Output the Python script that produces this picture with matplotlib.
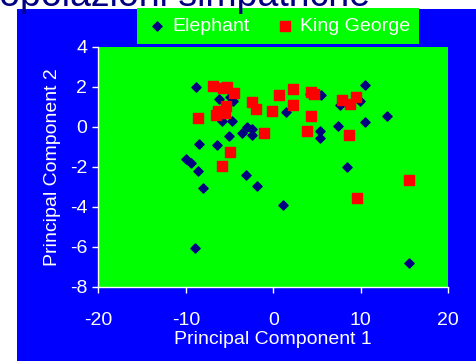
import matplotlib
matplotlib.use("Agg")
import matplotlib.pyplot as plt
from matplotlib.patches import Rectangle

# PCA scores
elephant_x = [-8.8, -6.2, -4.6, -5.0, 1.45, -5.9, -4.75, -3.6, -3.0, -2.45, -2.45,
              -5.1, -8.5, -6.4, -10.0, -9.4, -8.6, -8.0, -3.1, -1.9, 1.07, -8.9,
              4.2, 5.4, 10.5, 7.6, 9.9, 7.4, 10.5, 13.0, 5.3, 5.3, 8.4, 15.5]
elephant_y = [2.0, 1.37, 1.28, 1.5, 0.73, 0.3, 0.3, -0.33, -0.03, -0.1, -0.4,
              -0.47, -0.85, -0.9, -1.63, -1.8, -2.2, -3.07, -2.43, -2.95, -3.93, -6.08,
              1.63, 1.58, 2.1, 1.07, 1.3, 0.03, 0.22, 0.55, -0.22, -0.55, -2.0, -6.8]

george_x = [-6.9, -5.7, -5.3, -4.5, -2.4, -2.0, -0.2, 0.7, -5.4, -6.3, -5.5, -6.5,
            -8.6, -1.1, -5.0, -5.85, 2.3, 2.3, 4.3, 4.7, 4.3, 3.8, 7.9, 8.8, 9.45,
            8.7, 9.6, 15.5]
george_y = [2.03, 1.92, 2.0, 1.68, 1.25, 0.87, 0.78, 1.6, 1.03, 0.78, 0.67, 0.58,
            0.43, -0.33, -1.27, -1.95, 1.88, 1.08, 1.75, 1.63, 0.53, -0.2, 1.33, 1.13,
            1.47, -0.42, -3.58, -2.67]

x_ticks = [-20, -10, 0, 10, 20]
y_ticks = [4, 2, 0, -2, -4, -6, -8]

plt.rcParams['font.family'] = ['Liberation Sans', 'DejaVu Sans']
plt.rcParams['axes.unicode_minus'] = False

W, H = 477, 361
fig = plt.figure(figsize=(W / 100, H / 100), dpi=100)
fig.patch.set_facecolor('white')

# blue slide background
fig.patches.append(Rectangle((17 / W, 0), 1 - 17 / W, 1 - 9.3 / H,
                             transform=fig.transFigure, facecolor='#0000FF',
                             edgecolor='none', zorder=-1))

# cut-off slide title
fig.text(370 / W, 1 - 6.5 / H, 'Popolazioni simpatriche', ha='right',
         va='baseline', fontsize=27, color='#000080')

ax = fig.add_axes([98.3 / W, 1 - 286.7 / H, 350 / W, 240 / H])
ax.set_zorder(2)
ax.set_facecolor('#00FF00')

ax.scatter(elephant_x, elephant_y, marker='D', s=22, color='#000080',
           label='Elephant', zorder=3)
ax.scatter(george_x, george_y, marker='s', s=44, color='#FF0000',
           label='King George', zorder=4)

ax.set_xlim(-20, 20)
ax.set_ylim(-8, 4)
ax.set_xticks(x_ticks)
ax.set_yticks(y_ticks)

for side in ['top', 'right']:
    ax.spines[side].set_visible(False)
for side in ['left', 'bottom']:
    ax.spines[side].set_color('white')
    ax.spines[side].set_linewidth(1)

ax.tick_params(colors='white', labelsize=14, length=4, width=1, direction='out')
ax.tick_params(axis='x', pad=14)
ax.tick_params(axis='y', pad=4)

ax.set_xlabel('Principal Component 1', color='white', fontsize=14, labelpad=2)
ax.set_ylabel('Principal Component 2', color='white', fontsize=14, labelpad=6)

leg = ax.legend(loc='center', bbox_to_anchor=(278 / W, 1 - 26 / H),
                bbox_transform=fig.transFigure, ncol=2, frameon=True,
                facecolor='#00FF00', edgecolor='none', fancybox=False,
                framealpha=1, fontsize=14, handletextpad=0.2,
                columnspacing=1.2, borderpad=0.45, handlelength=1.2,
                scatterpoints=1)
for t in leg.get_texts():
    t.set_color('white')

fig.savefig('out.png', dpi=100, facecolor=fig.get_facecolor())
